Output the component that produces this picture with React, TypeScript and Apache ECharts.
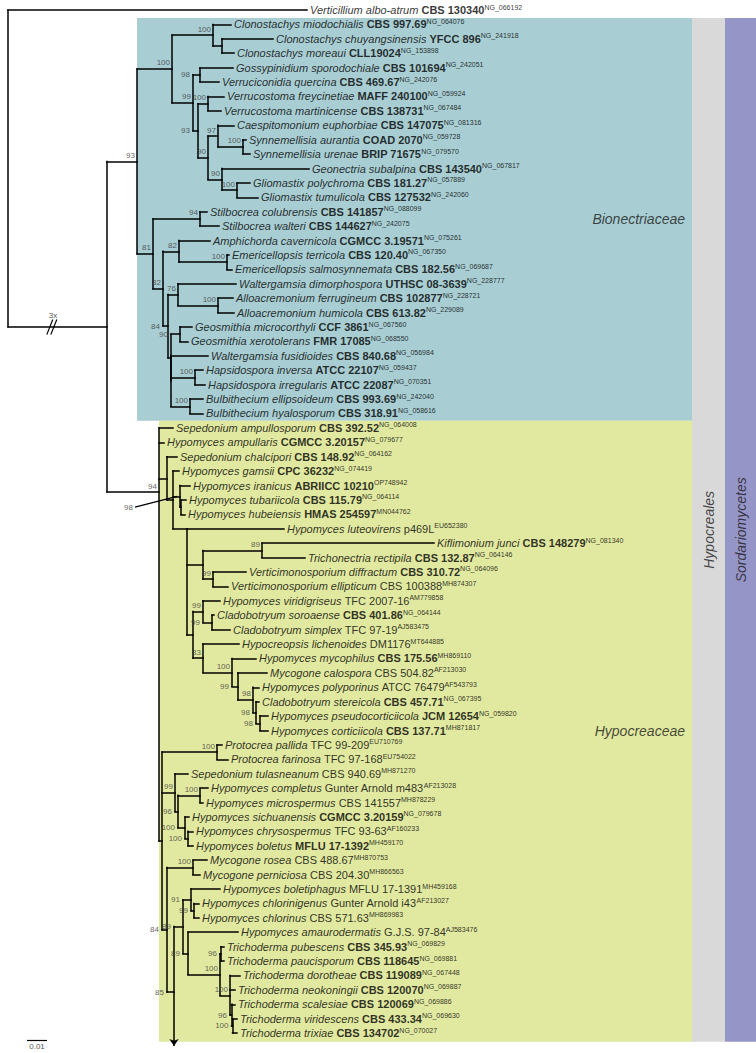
import React, { useEffect, useRef } from "react";
import * as echarts from "echarts";

// ---------- taxa (tips, top to bottom) ----------
const NAMES = [
  "Verticillium albo-atrum", "Clonostachys miodochialis", "Clonostachys chuyangsinensis", "Clonostachys moreaui",
  "Gossypinidium sporodochiale", "Verruciconidia quercina", "Verrucostoma freycinetiae", "Verrucostoma martinicense",
  "Caespitomonium euphorbiae", "Synnemellisia aurantia", "Synnemellisia urenae", "Geonectria subalpina",
  "Gliomastix polychroma", "Gliomastix tumulicola", "Stilbocrea colubrensis", "Stilbocrea walteri",
  "Amphichorda cavernicola", "Emericellopsis terricola", "Emericellopsis salmosynnemata", "Waltergamsia dimorphospora",
  "Alloacremonium ferrugineum", "Alloacremonium humicola", "Geosmithia microcorthyli", "Geosmithia xerotolerans",
  "Waltergamsia fusidioides", "Hapsidospora inversa", "Hapsidospora irregularis", "Bulbithecium ellipsoideum",
  "Bulbithecium hyalosporum", "Sepedonium ampullosporum", "Hypomyces ampullaris", "Sepedonium chalcipori",
  "Hypomyces gamsii", "Hypomyces iranicus", "Hypomyces tubariicola", "Hypomyces hubeiensis",
  "Hypomyces luteovirens", "Kiflimonium junci", "Trichonectria rectipila", "Verticimonosporium diffractum",
  "Verticimonosporium ellipticum", "Hypomyces viridigriseus", "Cladobotryum soroaense", "Cladobotryum simplex",
  "Hypocreopsis lichenoides", "Hypomyces mycophilus", "Mycogone calospora", "Hypomyces polyporinus",
  "Cladobotryum stereicola", "Hypomyces pseudocorticiicola", "Hypomyces corticiicola", "Protocrea pallida",
  "Protocrea farinosa", "Sepedonium tulasneanum", "Hypomyces completus", "Hypomyces microspermus",
  "Hypomyces sichuanensis", "Hypomyces chrysospermus", "Hypomyces boletus", "Mycogone rosea",
  "Mycogone perniciosa", "Hypomyces boletiphagus", "Hypomyces chlorinigenus", "Hypomyces chlorinus",
  "Hypomyces amaurodermatis", "Trichoderma pubescens", "Trichoderma paucisporum", "Trichoderma dorotheae",
  "Trichoderma neokoningii", "Trichoderma scalesiae", "Trichoderma viridescens", "Trichoderma trixiae",
];

const STRAINS = [
  "CBS 130340", "CBS 997.69", "YFCC 896", "CLL19024", "CBS 101694", "CBS 469.67", "MAFF 240100", "CBS 138731",
  "CBS 147075", "COAD 2070", "BRIP 71675", "CBS 143540", "CBS 181.27", "CBS 127532", "CBS 141857", "CBS 144627",
  "CGMCC 3.19571", "CBS 120.40", "CBS 182.56", "UTHSC 08-3639", "CBS 102877", "CBS 613.82", "CCF 3861", "FMR 17085",
  "CBS 840.68", "ATCC 22107", "ATCC 22087", "CBS 993.69", "CBS 318.91", "CBS 392.52", "CGMCC 3.20157", "CBS 148.92",
  "CPC 36232", "ABRIICC 10210", "CBS 115.79", "HMAS 254597", "p469L", "CBS 148279", "CBS 132.87", "CBS 310.72",
  "CBS 100388", "TFC 2007-16", "CBS 401.86", "TFC 97-19", "DM1176", "CBS 175.56", "CBS 504.82", "ATCC 76479",
  "CBS 457.71", "JCM 12654", "CBS 137.71", "TFC 99-209", "TFC 97-168", "CBS 940.69", "Gunter Arnold m483", "CBS 141557",
  "CGMCC 3.20159", "TFC 93-63", "MFLU 17-1392", "CBS 488.67", "CBS 204.30", "MFLU 17-1391", "Gunter Arnold i43", "CBS 571.63",
  "G.J.S. 97-84", "CBS 345.93", "CBS 118645", "CBS 119089", "CBS 120070", "CBS 120069", "CBS 433.34", "CBS 134702",
];

// 1 = type material (bold strain), 0 = regular
const BOLD = [
  1, 1, 1, 1, 1, 1, 1, 1, 1, 1, 1, 1, 1, 1, 1, 1,
  1, 1, 1, 1, 1, 1, 1, 1, 1, 1, 1, 1, 1, 1, 1, 1,
  1, 1, 1, 1, 0, 1, 1, 1, 0, 0, 1, 0, 0, 1, 0, 0,
  1, 1, 1, 0, 0, 0, 0, 0, 1, 0, 1, 0, 0, 0, 0, 0,
  0, 1, 1, 1, 1, 1, 1, 1,
];

const ACCESSIONS = [
  "NG_066192", "NG_064076", "NG_241918", "NG_153898", "NG_242051", "NG_242076", "NG_059924", "NG_067484",
  "NG_081316", "NG_059728", "NG_079570", "NG_067817", "NG_057889", "NG_242060", "NG_088099", "NG_242075",
  "NG_075261", "NG_067350", "NG_069687", "NG_228777", "NG_228721", "NG_229089", "NG_067560", "NG_068550",
  "NG_056984", "NG_059437", "NG_070351", "NG_242040", "NG_058616", "NG_064008", "NG_079677", "NG_064162",
  "NG_074419", "OP748942", "NG_064114", "MN044762", "EU652380", "NG_081340", "NG_064146", "NG_064096",
  "MH874307", "AM779858", "NG_064144", "AJ583475", "MT644885", "MH869110", "AF213030", "AF543793",
  "NG_067395", "NG_059820", "MH871817", "EU710769", "EU754022", "MH871270", "AF213028", "MH878229",
  "NG_079678", "AF160233", "MH459170", "MH870753", "MH866563", "MH459168", "AF213027", "MH869983",
  "AJ583476", "NG_069829", "NG_069881", "NG_067448", "NG_069887", "NG_069886", "NG_069630", "NG_070027",
];

// distance of each tip from the root (units of 0.001 substitutions/site; root branch shortened 3x)
const TIP_DEPTH = [
  149.5, 111.5, 132.5, 113, 112.5, 105.5, 108, 106.5, 113, 119, 121, 150.5, 121, 125, 99.5, 105.5,
  101, 110.5, 112, 114, 112.5, 113, 92, 90, 100, 97.5, 98.5, 97.5, 97.5, 82.5, 78, 84.5,
  85.5, 91, 89, 88.5, 138, 213, 148.5, 119, 110, 106, 103, 111, 115.5, 124, 129.5, 125.5,
  125.5, 130, 130, 107, 110, 90, 100, 97.5, 90.5, 92.5, 92.5, 99.5, 96, 106, 95.5, 95.5,
  115, 108, 108, 116, 113.5, 113.5, 114.5, 114.5,
];

// ---------- tree topology: node depth, bootstrap support, children ----------
type TNode = { d: number; b: string; c: (number | TNode)[]; y?: number; arrowTo?: number; ptr?: boolean };
const n = (d: number, b: string, c: (number | TNode)[], o: Partial<TNode> = {}): TNode => ({ d, b, c, ...o });

const TREE: TNode = n(0, "", [
  0,
  n(49.5, "", [
    n(64.5, "93", [
      n(82, "100", [
        n(102.5, "100", [1, n(107, "", [2, 3])]),
        n(92.5, "99", [
          n(96, "98", [4, 5]),
          n(95, "93", [
            n(100, "100", [6, 7]),
            n(100, "90", [
              n(105, "97", [8, n(117.5, "100", [9, 10])]),
              n(107, "90", [11, n(114.5, "100", [12, 13])]),
            ]),
          ]),
        ]),
      ]),
      n(72.5, "81", [
        n(96, "94", [14, 15]),
        n(77.5, "82", [
          n(85.5, "82", [16, n(109.5, "100", [17, 18])]),
          n(80, "84", [
            n(85, "76", [19, n(105, "100", [20, 21])]),
            n(81.5, "", [
              n(86, "90", [22, 23]),
              n(81.5, "", [24, n(93.5, "100", [25, 26]), n(91, "100", [27, 28])]),
            ]),
          ]),
        ]),
      ]),
    ]),
    n(75.5, "94", [
      29,
      30,
      n(79.5, "", [
        31,
        n(82.5, "", [
          32,
          n(86, "98", [33, n(86.5, "", [34, 35])], { ptr: true }),
          n(89.5, "", [
            36,
            n(97.5, "", [n(127, "89", [37, 38]), n(102.5, "99", [39, 40])]),
            n(92.5, "", [
              n(97.5, "99", [41, n(102, "99", [42, 43])]),
              n(97.5, "83", [
                44,
                n(112, "100", [45, n(115, "99", [46, n(122.5, "98", [47, n(124, "98", [48, n(126, "98", [49, 50])])])])]),
              ]),
            ]),
          ], { y: 36 }),
        ]),
      ]),
      n(77, "", [
        n(104.5, "100", [51, 52]),
        n(83.5, "99", [53, n(85, "96", [n(96, "100", [54, 55]), n(88.5, "100", [56, n(90, "100", [57, 58])])])]),
        n(79.5, "84", [
          n(92.5, "100", [59, 60]),
          n(83, "85", [
            n(87.5, "89", [
              n(91.5, "91", [61, n(93, "99", [62, 63])]),
              n(90, "89", [64, n(106, "100", [n(106.5, "96", [65, 66]), n(111, "100", [67, 68, n(111.75, "96", [69, n(112.25, "100", [70, 71])])])])]),
            ]),
          ], { y: 68.15, arrowTo: 71.9 }),
        ]),
      ]),
    ], { y: 33.45 }),
  ]),
]);

// ---------- clade shading ----------
const CLADE_NAMES = ["Bionectriaceae", "Hypocreaceae"];
const CLADE_FROM = [0.55, 28.5];
const CLADE_TO = [28.5, 71.6];
const CLADE_DEPTH = [64.5, 75.5];
const CLADE_COLORS = ["#a8cdd2", "#e1e8a0"];
const CLADE_RIGHT = 342;

const BAND_NAMES = ["Hypocreales", "Sordariomycetes"];
const BAND_X0 = [342, 358.5];
const BAND_X1 = [358.5, 374];
const BAND_COLORS = ["#d9d9d9", "#9695c8"];
const BAND_FROM = 0.55;
const BAND_TO = 71.6;

const SCALE_VALUE = 10; // 0.01
const SCALE_LABEL = "0.01";
const SCALE_POS = [9.5, 71.5];
const ROOT_BREAK_LABEL = "3x";

const FONT = "Liberation Sans";

export default function App() {
  const ref = useRef<HTMLDivElement>(null);
  useEffect(() => {
    if (!ref.current) return;
    const chart = echarts.init(ref.current, null, { renderer: "svg" });

    const segs: any[] = [];
    const boots: any[] = [];
    const pointers: any[] = [];
    const pointerLabels: any[] = [];
    const arrows: any[] = [];
    let ingroupY = 0;
    let ingroupD = 0;

    const walk = (node: TNode, parentD: number): number => {
      const ys = node.c.map((ch) => (typeof ch === "number" ? ch : walk(ch, node.d)));
      const y = node.y !== undefined ? node.y : (ys[0] + ys[ys.length - 1]) / 2;
      const lo = Math.min(...ys, y);
      const hi = Math.max(...ys, y);
      if (hi > lo) segs.push({ coords: [[node.d, lo], [node.d, hi]] });
      node.c.forEach((ch, k) => {
        const cd = typeof ch === "number" ? TIP_DEPTH[ch] : ch.d;
        if (cd > node.d) segs.push({ coords: [[node.d, ys[k]], [cd, ys[k]]] });
      });
      if (node.arrowTo !== undefined) arrows.push({ coords: [[node.d, hi], [node.d, node.arrowTo]] });
      if (node.b) {
        if (node.ptr) {
          const end = [node.d - 22.5, y + 0.75];
          pointers.push({ coords: [[node.d - 1.5, y], end] });
          pointerLabels.push({ value: end, label: { formatter: node.b } });
        } else {
          const blen = (node.d - parentD) * 2;
          if (blen >= 10) boots.push({ value: [node.d, y], label: { formatter: node.b, offset: [0, -6] } });
          else boots.push({ value: [parentD, y], label: { formatter: node.b, offset: [-1, 0] } });
        }
      }
      return y;
    };
    walk(TREE, 0);
    const ing = TREE.c[1] as TNode;
    ingroupD = ing.d;
    const rootH = segs.find((s) => s.coords[0][0] === 0 && s.coords[1][0] === ingroupD);
    ingroupY = rootH ? rootH.coords[0][1] : 22;

    const breakX = 21;
    const breaks = [
      { coords: [[breakX - 1.6, ingroupY + 0.55], [breakX + 1.4, ingroupY - 0.5]] },
      { coords: [[breakX + 0.4, ingroupY + 0.55], [breakX + 3.4, ingroupY - 0.5]] },
    ];

    const boxes = CLADE_NAMES.map((_, i) => [CLADE_DEPTH[i], CLADE_FROM[i], CLADE_RIGHT, CLADE_TO[i], i]);
    const bands = BAND_NAMES.map((_, i) => [BAND_X0[i], BAND_FROM, BAND_X1[i], BAND_TO, 2 + i]);
    const fills = [...CLADE_COLORS, ...BAND_COLORS];

    const tipData = NAMES.map((_, i) => ({ value: [TIP_DEPTH[i], i] }));

    const option: any = {
      animation: false,
      backgroundColor: "#ffffff",
      grid: { left: 8, right: 0, top: 0, bottom: 0 },
      xAxis: { type: "value", min: 0, max: 374, show: false },
      yAxis: { type: "value", inverse: true, min: -10 / 14.41, max: 1043 / 14.41, show: false },
      series: [
        {
          type: "custom",
          silent: true,
          z: 0,
          clip: false,
          data: [...boxes, ...bands],
          renderItem: (_p: any, api: any) => {
            const p0 = api.coord([api.value(0), api.value(1)]);
            const p1 = api.coord([api.value(2), api.value(3)]);
            return {
              type: "rect",
              shape: { x: p0[0], y: p0[1], width: p1[0] - p0[0], height: p1[1] - p0[1] },
              style: { fill: fills[api.value(4)] },
            };
          },
        },
        {
          type: "lines",
          coordinateSystem: "cartesian2d",
          silent: true,
          z: 3,
          lineStyle: { color: "#000", width: 1.5, opacity: 1, cap: "square" },
          data: segs,
        },
        {
          type: "lines",
          coordinateSystem: "cartesian2d",
          silent: true,
          z: 3,
          lineStyle: { color: "#000", width: 1.2, opacity: 1 },
          data: [...breaks, ...pointers, { coords: [SCALE_POS, [SCALE_POS[0] + SCALE_VALUE, SCALE_POS[1]]] }],
        },
        {
          type: "lines",
          coordinateSystem: "cartesian2d",
          silent: true,
          z: 3,
          symbol: ["none", "arrow"],
          symbolSize: 7,
          lineStyle: { color: "#000", width: 1.5, opacity: 1 },
          data: arrows,
        },
        {
          type: "scatter",
          silent: true,
          z: 4,
          symbolSize: 0,
          data: tipData,
          label: {
            show: true,
            position: "right",
            distance: 3,
            formatter: (p: any) => {
              const i = p.dataIndex;
              return `{i|${NAMES[i]} }{${BOLD[i] ? "b" : "r"}|${STRAINS[i]}}{s|${ACCESSIONS[i]}}`;
            },
            rich: {
              i: { fontFamily: FONT, fontSize: 11, fontStyle: "italic", color: "#000", lineHeight: 13 },
              b: { fontFamily: FONT, fontSize: 11, fontWeight: "bold", color: "#000", lineHeight: 13 },
              r: { fontFamily: FONT, fontSize: 11, color: "#000", lineHeight: 13 },
              s: { fontFamily: FONT, fontSize: 7, color: "#000", lineHeight: 6, verticalAlign: "top" },
            },
          },
        },
        {
          type: "scatter",
          silent: true,
          z: 4,
          symbolSize: 0,
          data: [...boots, ...pointerLabels],
          label: { show: true, position: "left", distance: 2, fontFamily: FONT, fontSize: 8, color: "#3a3a3a" },
        },
        {
          type: "scatter",
          silent: true,
          z: 4,
          symbolSize: 0,
          data: CLADE_NAMES.map((nm, i) => ({ value: [CLADE_RIGHT, (CLADE_FROM[i] + CLADE_TO[i]) / 2], label: { formatter: nm } })),
          label: { show: true, position: "left", distance: 7, fontFamily: FONT, fontSize: 14, fontStyle: "italic", color: "#1a1a1a" },
        },
        {
          type: "scatter",
          silent: true,
          z: 4,
          symbolSize: 0,
          data: BAND_NAMES.map((nm, i) => ({ value: [(BAND_X0[i] + BAND_X1[i]) / 2, (BAND_FROM + BAND_TO) / 2], label: { formatter: nm } })),
          label: { show: true, position: "inside", rotate: 90, fontFamily: FONT, fontSize: 14, fontStyle: "italic", color: "#1a1a1a" },
        },
        {
          type: "scatter",
          silent: true,
          z: 4,
          symbolSize: 0,
          data: [
            { value: [SCALE_POS[0] + SCALE_VALUE / 2, SCALE_POS[1]], label: { formatter: SCALE_LABEL, position: "bottom", distance: 2 } },
            { value: [breakX + 1.5, ingroupY], label: { formatter: ROOT_BREAK_LABEL, position: "top", distance: 7 } },
          ],
          label: { show: true, fontFamily: FONT, fontSize: 8, color: "#222" },
        },
      ],
    };
    chart.setOption(option);
    return () => chart.dispose();
  }, []);

  return (
    <div
      ref={ref}
      style={{ position: "fixed", left: 0, top: 0, width: 756, height: 1053, background: "#fff" }}
    />
  );
}
